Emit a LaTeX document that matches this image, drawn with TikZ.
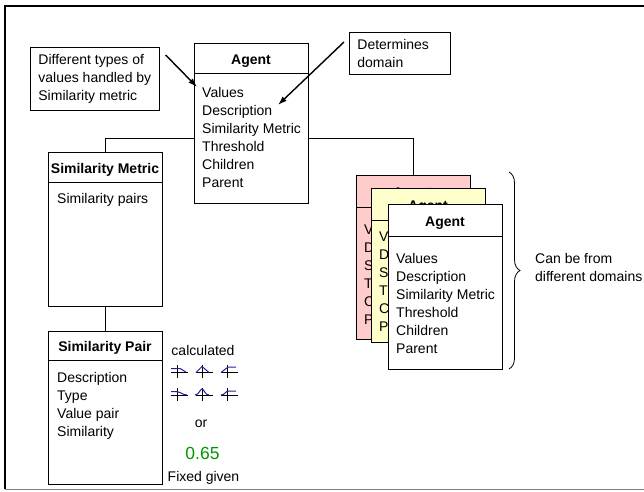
\documentclass[tikz,border=0pt]{standalone}
\usepackage{fontspec}
\setmainfont{Liberation Sans}
\definecolor{AgentPink}{RGB}{255,204,204}
\definecolor{AgentYellow}{RGB}{255,255,204}
\definecolor{FixGreen}{RGB}{0,150,0}
\definecolor{MfBlue}{RGB}{30,30,160}
\usetikzlibrary{arrows.meta, positioning, calc, decorations.pathreplacing, backgrounds}

\begin{document}
\begin{tikzpicture}[x=1pt, y=-1pt, font=\fontsize{14}{18}\selectfont,
	cls/.style={rectangle, draw=black, line width=0.8pt, fill=white, minimum width=114pt, inner sep=0pt, outer sep=0pt, anchor=north west},
	hdr/.style={font=\fontsize{14}{18}\selectfont\bfseries, anchor=base, inner sep=0pt},
	body/.style={align=left, anchor=north west, inner sep=0pt},
	note/.style={rectangle, draw=black, line width=0.8pt, fill=white, align=left, anchor=north west, inner xsep=8pt, inner ysep=7pt},
	pointer/.style={-{Latex[length=9pt,width=6pt]}, line width=1.4pt},
	axis/.style={line width=0.7pt, black},
	mf/.style={line width=1pt, MfBlue}]
	\useasboundingbox (0,0) rectangle (644,491);
	% frame
	\draw[line width=2pt] (5,489) -- (5,6) -- (644,6);
	\draw[line width=1.5pt, gray] (5,489.5) -- (644,489.5);

	% main agent
	\node[cls, minimum height=160pt] (agent) at (194,43) {};
	\draw[line width=0.8pt] ([yshift=-30pt]agent.north west) -- ([yshift=-30pt]agent.north east);
	\node[hdr] (agenthdr) at ([yshift=-21pt]agent.north) {Agent};
	\node[body] (agentbody) at ([xshift=8pt,yshift=-44pt]agent.north west) {Values\\Description\\Similarity Metric\\Threshold\\Children\\Parent};

	% notes
	\node[note] (typesnote) at (30,47) {Different types of\\values handled by\\Similarity metric};
	\node[note, text width=85pt] (domainnote) at (349,32) {Determines\\domain};
	\coordinate (valuestip) at (197,87);
	\coordinate (desctip) at (278,105);
	\draw[pointer] ([xshift=6pt,yshift=-8pt]typesnote.north east) -- (valuestip);
	\draw[pointer] ([xshift=-5pt,yshift=-10pt]domainnote.north west) -- (desctip);

	% similarity metric and pair
	\node[cls, minimum height=154pt] (simmetric) at (48,152) {};
	\draw[line width=0.8pt] ([yshift=-30pt]simmetric.north west) -- ([yshift=-30pt]simmetric.north east);
	\node[hdr] (simmetrichdr) at ([yshift=-21pt]simmetric.north) {Similarity Metric};
	\node[body] (simmetricbody) at ([xshift=9pt,yshift=-41pt]simmetric.north west) {Similarity pairs};

	\node[cls, minimum height=153pt] (simpair) at (48,331) {};
	\draw[line width=0.8pt] ([yshift=-29pt]simpair.north west) -- ([yshift=-29pt]simpair.north east);
	\node[hdr] (simpairhdr) at ([yshift=-20.5pt]simpair.north) {Similarity Pair};
	\node[body] (simpairbody) at ([xshift=9pt,yshift=-41pt]simpair.north west) {Description\\Type\\Value pair\\Similarity};

	% agents of other domains
	\foreach \nm/\px/\py/\ph/\ty/\col in {agentpink/356/175/164/49/AgentPink, agentyellow/371/188/154/43/AgentYellow, agentwhite/388/204/165/49/white} {
		\node[cls, fill=\col, minimum height=\ph pt] (\nm) at (\px,\py) {};
		\draw[line width=0.8pt] ([yshift=-32pt]\nm.north west) -- ([yshift=-32pt]\nm.north east);
		\node[hdr] at ([yshift=-22pt]\nm.north) {Agent};
		\node[body] at ([xshift=8pt,yshift=-\ty pt]\nm.north west) {Values\\Description\\Similarity Metric\\Threshold\\Children\\Parent};
	}

	\begin{scope}[on background layer]
		\draw[line width=0.8pt] (simmetric.north) -- ++(0,-14) -| (agentpink.north);
		\draw[line width=0.8pt] (simmetric.south) -- (simpair.north);
	\end{scope}

	\draw[line width=0.8pt, decorate, decoration={brace, amplitude=11pt}] (509,172) -- (509,369);
	\node[body] (domainslbl) at (535,253) {Can be from\\different domains};

	% calculated or fixed
	\node[hdr, font=\fontsize{14}{18}\selectfont] (calclbl) at (203,355) {calculated};
	\foreach \cx in {177,202,227} {
		\foreach \cy in {372,395} {
			\draw[axis] (\cx-6,\cy) -- (\cx+11,\cy);
			\draw[axis] (\cx,\cy-7) -- (\cx,\cy+6);
		}
	}
	\draw[mf] (171,368.5) -- (180,368.5) -- (186,372);
	\draw[mf] (196,372.5) -- (202,366.5) -- (209,372.5);
	\draw[mf] (221,372.5) -- (228,367) -- (236,367);
	\draw[mf] (171,391.5) -- (177,391.5) .. controls (181,391.5) and (182,395) .. (187,395);
	\draw[mf] (195,395) .. controls (199,395) and (200,389) .. (202,389) .. controls (204,389) and (205,395) .. (209,395);
	\draw[mf] (221,395) .. controls (225,395) and (225,391) .. (229,391) -- (236,391);
	\node[hdr, font=\fontsize{14}{18}\selectfont] (orlbl) at (201,427) {or};
	\node[hdr, font=\fontsize{17.5}{20}\selectfont, text=FixGreen] (fixval) at (202.5,459) {0.65};
	\node[hdr, font=\fontsize{14}{18}\selectfont] (fixlbl) at (203.5,481) {Fixed given};
\end{tikzpicture}
\end{document}
